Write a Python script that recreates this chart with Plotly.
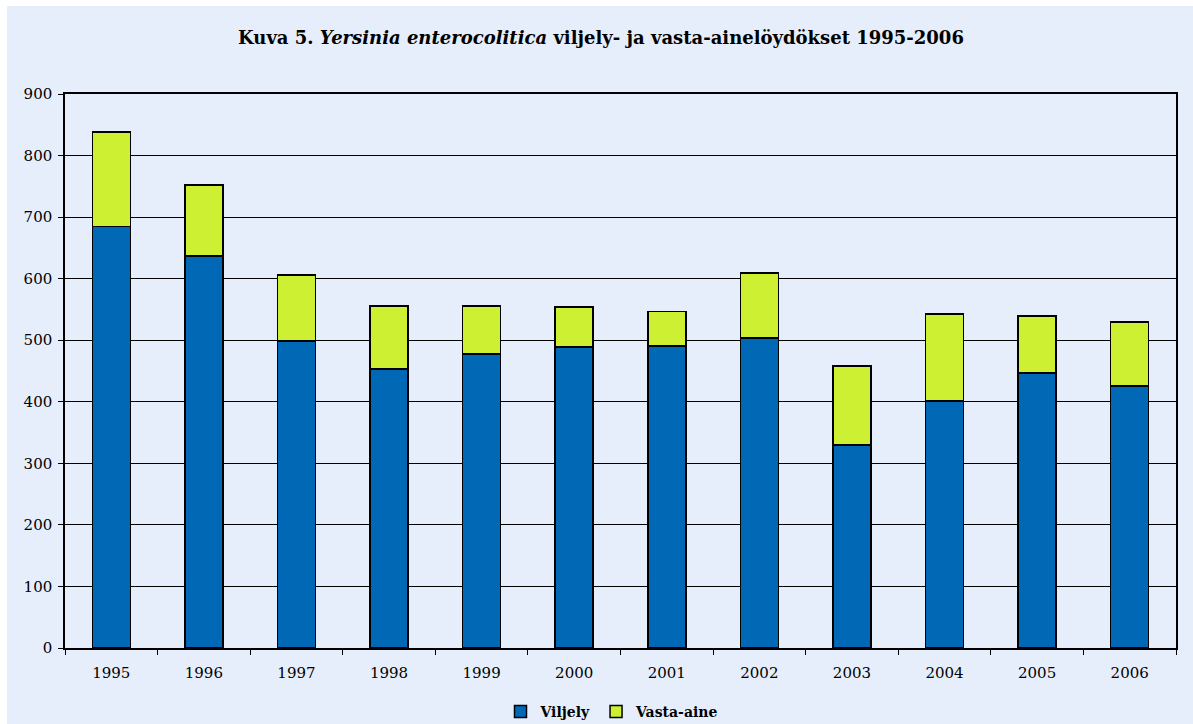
import plotly.graph_objects as go

years = ["1995", "1996", "1997", "1998", "1999", "2000", "2001", "2002", "2003", "2004", "2005", "2006"]
viljely = [685, 637, 499, 453, 478, 489, 491, 504, 330, 401, 447, 426]
vasta_aine = [153, 115, 107, 103, 78, 65, 56, 105, 128, 142, 92, 104]
y_ticks = [0, 100, 200, 300, 400, 500, 600, 700, 800, 900]

BG = "#E6EEFC"
FONT = "DejaVu Serif"

fig = go.Figure()
fig.add_trace(go.Bar(x=years, y=viljely, name="<b>Viljely</b>",
                     marker=dict(color="#0068B4", line=dict(color="black", width=1.5)),
                     width=0.41))
fig.add_trace(go.Bar(x=years, y=vasta_aine, name="<b>Vasta-aine</b>",
                     marker=dict(color="#CDF033", line=dict(color="black", width=1.5)),
                     width=0.41))

W, H = 1193, 724
l, r, t, b = 65, 17, 94, 76
pw, ph = W - l - r, H - t - b

def px_x(p):
    return (p - l) / pw

def px_y(p):
    return 1 - (p - t) / ph

fig.update_layout(
    width=W, height=H,
    barmode="stack",
    bargap=0.59,
    paper_bgcolor=BG,
    plot_bgcolor=BG,
    margin=dict(l=l, r=r, t=t, b=b, autoexpand=False),
    font=dict(family=FONT, size=14, color="black"),
    title=dict(
        text="<b>Kuva 5. <i>Yersinia enterocolitica</i> viljely- ja vasta-ainelöydökset 1995-2006</b>",
        xref="container", yref="container",
        x=601 / W, xanchor="center", y=1 - 38 / H, yanchor="middle",
        font=dict(family=FONT, size=18, color="black"),
    ),
    legend=dict(orientation="h", x=px_x(612), xanchor="center", y=px_y(712), yanchor="middle",
                font=dict(family=FONT, size=14, color="black"),
                bgcolor="rgba(0,0,0,0)", itemwidth=30, traceorder="normal"),
    xaxis=dict(type="category", showline=True, linecolor="black", linewidth=1.5, mirror=True,
               ticks="outside", tickson="boundaries", ticklen=5, tickcolor="black",
               ticklabelstandoff=10,
               showgrid=False, tickfont=dict(family=FONT, size=15)),
    yaxis=dict(range=[0, 900], tickvals=y_ticks, showline=True, linecolor="black", linewidth=1.5,
               mirror=True, ticks="outside", ticklen=5, tickcolor="black",
               ticklabelstandoff=3,
               showgrid=True, gridcolor="black", gridwidth=1, zeroline=False,
               tickfont=dict(family=FONT, size=15)),
    shapes=[
        dict(type="rect", xref="paper", yref="paper", x0=px_x(-5), x1=px_x(7), y0=px_y(-5), y1=px_y(H + 5),
             fillcolor="white", line=dict(width=0), layer="below"),
        dict(type="rect", xref="paper", yref="paper", x0=px_x(-5), x1=px_x(W + 5), y0=px_y(-5), y1=px_y(6),
             fillcolor="white", line=dict(width=0), layer="below"),
    ],
)

fig.write_html("out.html")
